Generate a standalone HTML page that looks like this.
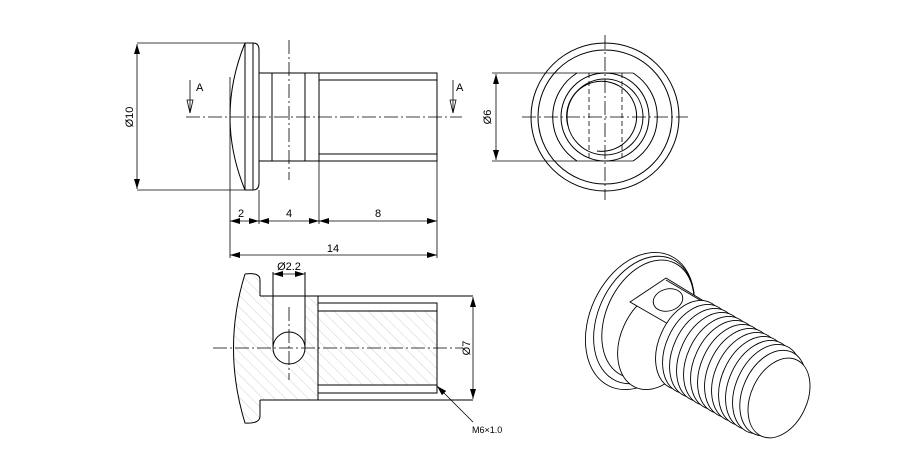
<!DOCTYPE html>
<html><head><meta charset="utf-8"><style>html,body{margin:0;padding:0;background:#fff}svg{display:block}</style></head><body>
<svg width="921" height="476" viewBox="0 0 921 476" xmlns="http://www.w3.org/2000/svg" font-family="Liberation Sans, sans-serif" font-size="11">
<defs>
<marker id="ar" viewBox="0 0 10 6" refX="10" refY="3" markerWidth="10" markerHeight="6" orient="auto-start-reverse" markerUnits="userSpaceOnUse"><path d="M0,0 L10,3 L0,6 z" fill="#000"/></marker>
<pattern id="hatch" width="8" height="8" patternUnits="userSpaceOnUse" patternTransform="rotate(-45)"><line x1="0" y1="0" x2="0" y2="8" stroke="#bbb" stroke-width="0.7"/></pattern>
</defs>
<g fill="none" stroke="#000" stroke-width="1">
<!-- TOP VIEW -->
<line x1="137" y1="43" x2="245" y2="43" stroke-width="0.8"/>
<line x1="137" y1="190" x2="245" y2="190" stroke-width="0.8"/>
<line x1="137" y1="44" x2="137" y2="189" stroke-width="0.8" marker-start="url(#ar)" marker-end="url(#ar)"/>
<path d="M245,43 Q215,117 245,190"/>
<line x1="245" y1="43" x2="245" y2="190"/>
<line x1="253" y1="43" x2="253" y2="190"/>
<path d="M245,43 H253 Q259,43 259,50 V183 Q259,190 253,190 H245"/>
<rect x="259" y="73" width="178" height="88"/>
<line x1="272" y1="73" x2="272" y2="161"/>
<line x1="305" y1="73" x2="305" y2="161"/>
<line x1="319" y1="73" x2="319" y2="161"/>
<line x1="319" y1="80" x2="437" y2="80"/>
<line x1="319" y1="154" x2="437" y2="154"/>
<line x1="186" y1="117" x2="462" y2="117" stroke-width="0.8" stroke-dasharray="14,3,2,3"/>
<line x1="289" y1="40" x2="289" y2="180" stroke-width="0.8" stroke-dasharray="14,3,2,3"/>
<line x1="230" y1="77" x2="230" y2="258" stroke-width="0.8"/>
<line x1="259" y1="190" x2="259" y2="224" stroke-width="0.8"/>
<line x1="319" y1="161" x2="319" y2="224" stroke-width="0.8"/>
<line x1="437" y1="161" x2="437" y2="258" stroke-width="0.8"/>
<line x1="230" y1="221" x2="259" y2="221" stroke-width="0.8" marker-start="url(#ar)" marker-end="url(#ar)"/>
<line x1="259" y1="221" x2="319" y2="221" stroke-width="0.8" marker-start="url(#ar)" marker-end="url(#ar)"/>
<line x1="319" y1="221" x2="437" y2="221" stroke-width="0.8" marker-start="url(#ar)" marker-end="url(#ar)"/>
<line x1="230" y1="255" x2="437" y2="255" stroke-width="0.8" marker-start="url(#ar)" marker-end="url(#ar)"/>
<line x1="190" y1="80" x2="190" y2="113" stroke-width="0.8"/>
<path d="M187,100 L190,113 L193,100 z" stroke-width="0.8"/>
<line x1="453" y1="80" x2="453" y2="113" stroke-width="0.8"/>
<path d="M450,100 L453,113 L456,100 z" stroke-width="0.8"/>

<!-- END VIEW -->
<circle cx="605" cy="117" r="74"/>
<circle cx="605" cy="117" r="67"/>
<path d="M577,73 A52,52 0 0 0 577,161"/>
<path d="M633,73 A52,52 0 0 1 633,161"/>
<circle cx="605" cy="117" r="44"/>
<circle cx="605" cy="117" r="38"/>
<path d="M568,126 A35,35 0 1 1 597,151" />
<line x1="492" y1="73" x2="633" y2="73" stroke-width="0.8"/>
<line x1="492" y1="161" x2="633" y2="161" stroke-width="0.8"/>
<line x1="496" y1="74" x2="496" y2="160" stroke-width="0.8" marker-start="url(#ar)" marker-end="url(#ar)"/>
<line x1="589" y1="73" x2="589" y2="161" stroke-width="0.8" stroke-dasharray="5,3"/>
<line x1="622" y1="73" x2="622" y2="161" stroke-width="0.8" stroke-dasharray="5,3"/>
<line x1="522" y1="117" x2="688" y2="117" stroke-width="0.8" stroke-dasharray="14,3,2,3"/>
<line x1="605" y1="35" x2="605" y2="200" stroke-width="0.8" stroke-dasharray="14,3,2,3"/>

<!-- SECTION VIEW -->
<path d="M245,274 Q260,272 260,280 V296 H318 V400 H260 V416 Q260,424 245,423 Q222,348 245,274 z M273,296 V348 A16,16 0 0 0 305,348 V296 z" fill="url(#hatch)" stroke="none" fill-rule="evenodd"/>
<rect x="318" y="311" width="119" height="74" fill="url(#hatch)" stroke="none"/>
<path d="M245,274 Q260,272 260,280 V296 M260,400 V416 Q260,424 245,423 Q222,348 245,274"/>
<line x1="260" y1="296" x2="473" y2="296"/>
<line x1="260" y1="400" x2="473" y2="400"/>
<line x1="318" y1="296" x2="318" y2="400"/>
<rect x="318" y="303" width="119" height="90"/>
<line x1="318" y1="311" x2="437" y2="311"/>
<line x1="318" y1="385" x2="437" y2="385"/>
<line x1="273" y1="272" x2="273" y2="348"/>
<line x1="305" y1="272" x2="305" y2="348"/>
<circle cx="289" cy="348" r="16"/>
<line x1="289" y1="307" x2="289" y2="380" stroke-width="0.8" stroke-dasharray="14,3,2,3"/>
<line x1="213" y1="348" x2="462" y2="348" stroke-width="0.8" stroke-dasharray="14,3,2,3"/>
<line x1="273" y1="274" x2="305" y2="274" stroke-width="0.8" marker-start="url(#ar)" marker-end="url(#ar)"/>
<line x1="473" y1="297" x2="473" y2="399" stroke-width="0.8" marker-start="url(#ar)" marker-end="url(#ar)"/>
<line x1="473" y1="422" x2="437" y2="386" stroke-width="0.8" marker-end="url(#ar)"/>

<!-- ISOMETRIC -->
<g stroke-width="0.9">
<ellipse cx="640" cy="321" rx="72" ry="50" transform="rotate(-65 640 321)" fill="#fff"/>
<ellipse cx="644" cy="320" rx="67" ry="46" transform="rotate(-65 644 320)"/>
<ellipse cx="648" cy="319" rx="62" ry="42" transform="rotate(-65 648 319)" fill="#fff"/>
<ellipse cx="657" cy="340" rx="52" ry="36" transform="rotate(-65 657 340)" fill="#fff"/>
<path d="M630,302 L666,278 L707,303 L670,325 z" fill="#fff"/>
<line x1="666" y1="280" x2="705" y2="303"/>
<ellipse cx="668" cy="300" rx="15" ry="11" transform="rotate(-15 668 300)"/>
<line x1="670" y1="325" x2="670" y2="340"/>
<g fill="#fff">
<ellipse cx="690" cy="345" rx="47" ry="31" transform="rotate(-65 690 345)"/>
<ellipse cx="697" cy="349" rx="47" ry="31" transform="rotate(-65 697 349)"/>
<ellipse cx="704" cy="353" rx="47" ry="31" transform="rotate(-65 704 353)"/>
<ellipse cx="711" cy="357" rx="47" ry="31" transform="rotate(-65 711 357)"/>
<ellipse cx="718" cy="361" rx="47" ry="31" transform="rotate(-65 718 361)"/>
<ellipse cx="725" cy="365" rx="47" ry="31" transform="rotate(-65 725 365)"/>
<ellipse cx="732" cy="369" rx="47" ry="31" transform="rotate(-65 732 369)"/>
<ellipse cx="739" cy="373" rx="47" ry="31" transform="rotate(-65 739 373)"/>
<ellipse cx="746" cy="377" rx="47" ry="31" transform="rotate(-65 746 377)"/>
<ellipse cx="753" cy="381" rx="47" ry="31" transform="rotate(-65 753 381)"/>
<ellipse cx="760" cy="385" rx="47" ry="31" transform="rotate(-65 760 385)"/>
<ellipse cx="767" cy="389" rx="47" ry="31" transform="rotate(-65 767 389)"/>
<ellipse cx="773" cy="393" rx="45" ry="30" transform="rotate(-65 773 393)"/>
<ellipse cx="779" cy="398" rx="42" ry="28" transform="rotate(-65 779 398)"/>
</g>
</g>
</g>
<g fill="#000" stroke="none">
<text x="196" y="91">A</text>
<text x="456" y="91">A</text>
<text x="241" y="217" text-anchor="middle">2</text>
<text x="289" y="217" text-anchor="middle">4</text>
<text x="378" y="217" text-anchor="middle">8</text>
<text x="333" y="252" text-anchor="middle">14</text>
<text x="289" y="270" text-anchor="middle">Ø2.2</text>
<text transform="translate(133,117) rotate(-90)" text-anchor="middle">Ø10</text>
<text transform="translate(491,117) rotate(-90)" text-anchor="middle">Ø6</text>
<text transform="translate(470,348) rotate(-90)" text-anchor="middle">Ø7</text>
<text x="472" y="433" font-size="9">M6×1.0</text>
</g>
</svg>
</body></html>
